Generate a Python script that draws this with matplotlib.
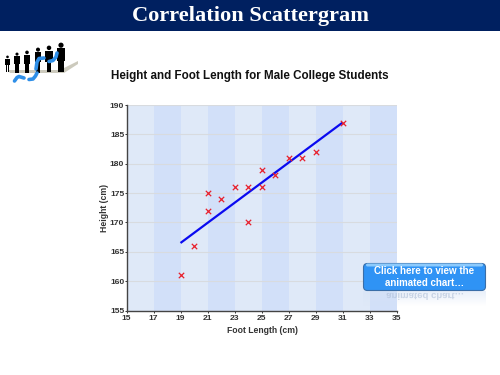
import numpy as np
import matplotlib
matplotlib.use("Agg")
import matplotlib.pyplot as plt
from matplotlib.patches import FancyBboxPatch, Rectangle, Circle, Polygon, PathPatch
from matplotlib.textpath import TextPath
from matplotlib.font_manager import FontProperties
from matplotlib.transforms import Affine2D

foot_length = [19, 20, 21, 21, 22, 23, 24, 24, 25, 25, 26, 27, 28, 29, 31]
height = [161, 166, 172, 175, 174, 176, 176, 170, 176, 179, 178, 181, 181, 182, 187]
fit_x = [19, 31]
fit_y = [166.5, 187]
x_ticks = list(range(15, 36, 2))
y_ticks = list(range(155, 191, 5))
page_title = "Correlation Scattergram"
chart_title = "Height and Foot Length for Male College Students"
button_lines = ["Click here to view the", "animated chart…"]

W, H = 500, 375
fig = plt.figure(figsize=(5, 3.75), dpi=100, facecolor="white")
plt.rcParams["font.family"] = ["Liberation Sans", "DejaVu Sans"]

# pixel overlay
bg = fig.add_axes([0, 0, 1, 1], zorder=0)
bg.set_xlim(0, W); bg.set_ylim(H, 0); bg.axis("off")
bg.add_patch(Rectangle((0, 0), W, 31, fc="#002060", ec="none"))
bg.text(250, 16.5, page_title, color="white", family="Liberation Serif",
        weight="bold", fontsize=16.1, ha="center", va="center")
bg.text(111, 76, chart_title, color="#111111", weight="bold", fontsize=8.35,
        ha="left", va="center")

# logo: shadow, people, footprints
bg.add_patch(Polygon([(8, 70), (60, 70), (78, 61), (78, 64), (64, 73), (10, 73)],
                     fc="#c4c1b2", ec="none", alpha=0.85))
for px, top, s in [(7.5, 55.5, 0.6), (17, 52.5, 0.7), (27, 50.5, 0.82),
                   (38, 47.5, 0.92), (49, 45.5, 1.02), (61, 42.5, 1.18)]:
    hw = 3.6 * s
    base = 72.5
    bg.add_patch(Circle((px, top + 2.3 * s), 2.2 * s, fc="black", ec="none"))
    bg.add_patch(Rectangle((px - hw, top + 5 * s), 2 * hw, 11 * s, fc="black", ec="none"))
    bg.add_patch(Rectangle((px - hw * 0.65, top + 14 * s), hw * 0.6, base - top - 14 * s, fc="black", ec="none"))
    bg.add_patch(Rectangle((px + hw * 0.05, top + 14 * s), hw * 0.6, base - top - 14 * s, fc="black", ec="none"))
for xs, ys in [([14.5, 17, 19, 24], [81, 77.5, 76.5, 78]),
               ([29, 33, 35.5, 37], [79.5, 79, 76, 73]),
               ([36, 37, 39, 44], [69, 62, 58.5, 58]),
               ([49, 53, 56, 57], [61.5, 60.5, 57, 53])]:
    bg.plot(xs, ys, color="#2f8fe8", lw=2.6, solid_capstyle="round")

# chart
ax = fig.add_axes([126.5 / W, 1 - 310.5 / H, (396.5 - 126.5) / W, (310.5 - 105) / H], zorder=1)
ax.set_xlim(15, 35); ax.set_ylim(155, 190)
ax.set_facecolor("#dfe9f8")
for i in range(17, 35, 4):
    ax.axvspan(i, i + 2, fc="#d2e0f9", ec="none", zorder=0)
ax.set_axisbelow(True)
ax.grid(axis="y", color="#d8dbdf", lw=0.8)
ax.plot(fit_x, fit_y, color="#0a0af0", lw=1.6, zorder=3, solid_capstyle="butt")
ax.scatter(foot_length, height, marker="x", s=15, color="#e8202c", lw=0.9, zorder=4)
ax.set_xticks(x_ticks); ax.set_yticks(y_ticks)
ax.tick_params(labelsize=6.1, length=1.2, width=0.7, color="#333333", labelcolor="#333333")
ax.tick_params(axis="x", pad=2.0)
ax.tick_params(axis="y", pad=0.4)
for lab in ax.get_xticklabels() + ax.get_yticklabels():
    lab.set_fontweight("bold")
for s in ("top", "right"):
    ax.spines[s].set_visible(False)
for s in ("left", "bottom"):
    ax.spines[s].set_color("#444444"); ax.spines[s].set_linewidth(1.0)
ax.set_xlabel("Foot Length (cm)", fontsize=6.25, weight="bold", color="#333333")
ax.set_ylabel("Height (cm)", fontsize=6.25, weight="bold", color="#333333")
ax.xaxis.set_label_coords(0.503, -0.0755)
ax.yaxis.set_label_coords(-0.064, 0.5)

# button
top = fig.add_axes([0, 0, 1, 1], zorder=2)
top.set_xlim(0, W); top.set_ylim(H, 0); top.axis("off"); top.patch.set_alpha(0)
grad = np.linspace(0.55, 0, 32)[:, None]
rgba = np.zeros((32, 1, 4)); rgba[..., :3] = matplotlib.colors.to_rgb("#d8e4f6"); rgba[..., 3] = grad
top.imshow(rgba, extent=(363, 486, 306, 291), aspect="auto", zorder=1)
top.set_xlim(0, W); top.set_ylim(H, 0)
top.add_patch(FancyBboxPatch((363.5, 263.5), 122, 27, boxstyle="round,pad=0,rounding_size=4",
                             fc="#2f93f5", ec="#3a6ea8", lw=0.8, zorder=2))
top.add_patch(FancyBboxPatch((366, 263.5), 117, 3, boxstyle="round,pad=0,rounding_size=1.5",
                             fc="#8ccafc", ec="none", zorder=3))
top.text(424.5, 271, button_lines[0], color="white", weight="bold", fontsize=7, ha="center", va="center", zorder=4)
top.text(424.5, 282.5, button_lines[1], color="white", weight="bold", fontsize=7, ha="center", va="center", zorder=4)
fp = FontProperties(family="Liberation Sans", weight="bold")
tp = TextPath((0, 0), button_lines[1], size=9.6, prop=fp)
w = tp.get_extents().width
top.add_patch(PathPatch(tp, fc="#a9bad4", ec="none", alpha=0.55, zorder=4,
              transform=Affine2D().translate(424.5 - w / 2, 293) + top.transData))

fig.savefig("out.png", dpi=100)
